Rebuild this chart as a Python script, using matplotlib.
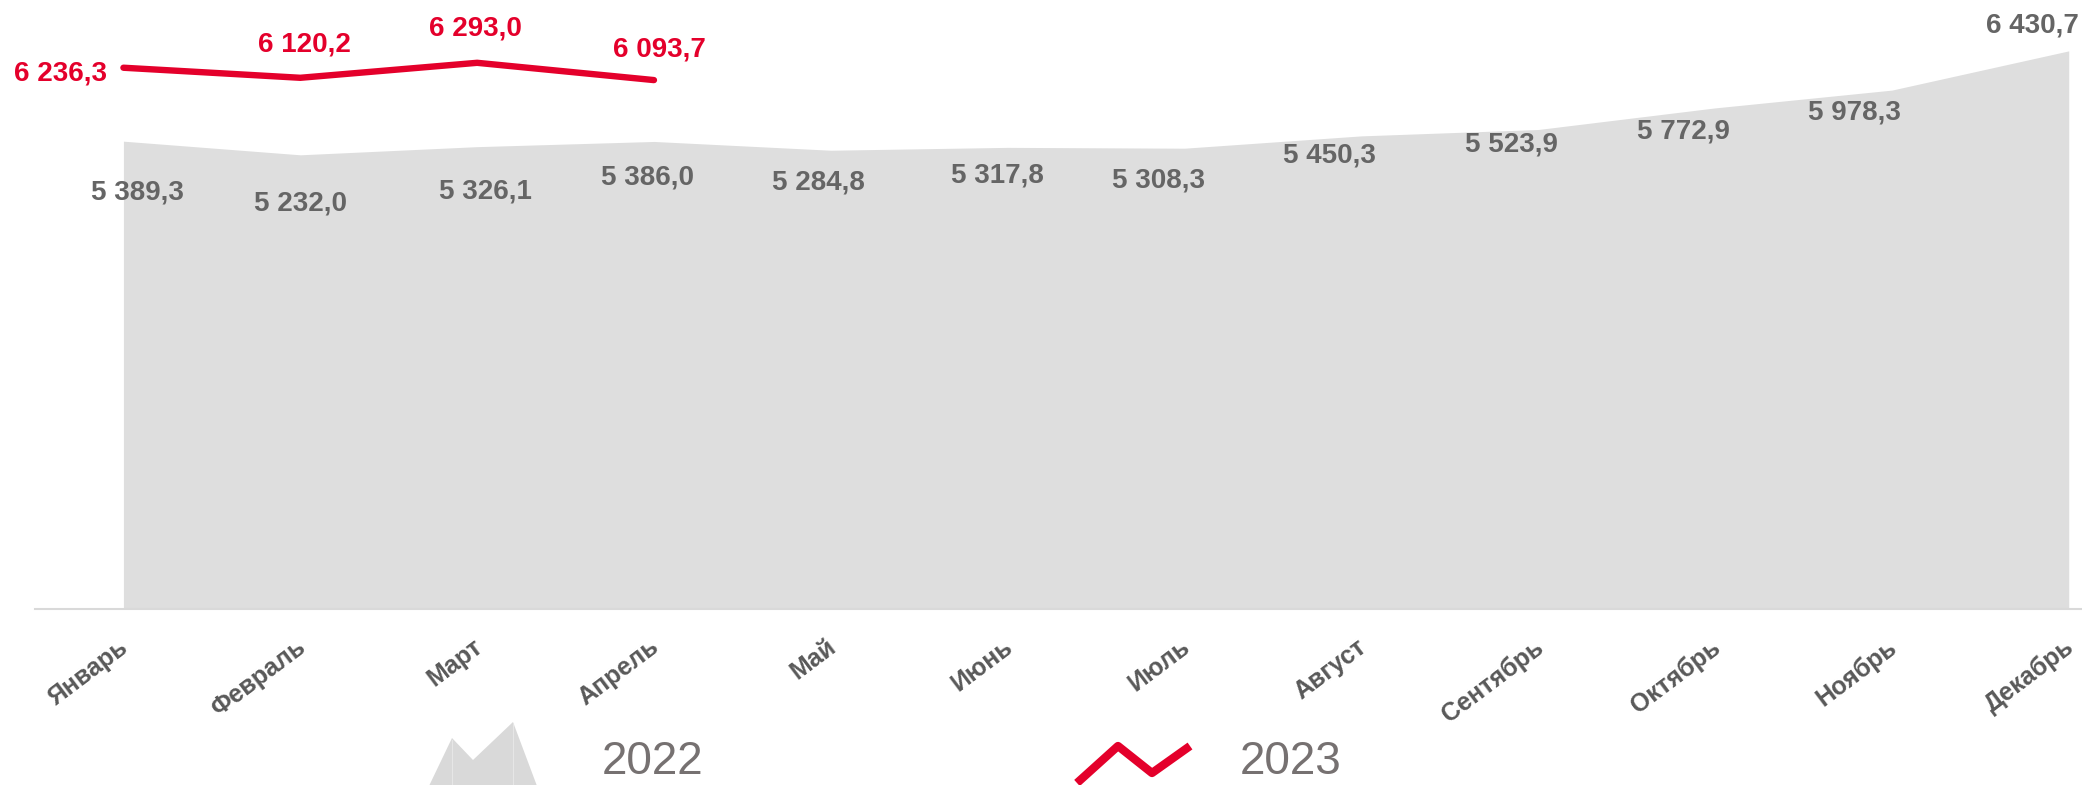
import matplotlib
matplotlib.use("Agg")
import matplotlib.pyplot as plt
import matplotlib.transforms as mtransforms
from matplotlib.patches import Polygon

plt.rcParams['font.family'] = ['Liberation Sans', 'DejaVu Sans']

# data
months = ["Январь", "Февраль", "Март", "Апрель", "Май", "Июнь",
          "Июль", "Август", "Сентябрь", "Октябрь", "Ноябрь", "Декабрь"]
values_2022 = [5389.3, 5232.0, 5326.1, 5386.0, 5284.8, 5317.8,
               5308.3, 5450.3, 5523.9, 5772.9, 5978.3, 6430.7]
values_2023 = [6236.3, 6120.2, 6293.0, 6093.7]
series_names = ["2022", "2023"]

# label placement (offset points), tuned by eye
offsets_2022 = [(10, -37), (0, -35), (6, -32), (-5, -26), (-9, -23), (-7, -20),
                (-19, -23), (-23, -14), (-19, -11), (-23, -17), (-27, -16), (-26, 18)]
offsets_2023 = [(-45, -4), (3, 24), (-1, 25), (4, 22)]

RED = "#E4002B"
FILL = "#DEDEDE"
TXT = "#656565"


def fmt(v):
    return f"{v:,.1f}".replace(",", " ").replace(".", ",")


W, H = 2082, 785
fig = plt.figure(figsize=(W / 100, H / 100), dpi=100)
ax = fig.add_axes([35 / W, (H - 608.5) / H, (W - 35) / W, 607 / H])

x = list(range(len(months)))
ax.fill_between(x, values_2022, 0, color=FILL, linewidth=0, zorder=1)
x23 = x[:len(values_2023)]
ax.plot(x23, values_2023, color=RED, linewidth=4.6, solid_capstyle="round",
        solid_joinstyle="miter", zorder=3)

for xi, v, (dx, dy) in zip(x, values_2022, offsets_2022):
    ax.annotate(fmt(v), (xi, v), xytext=(dx, dy), textcoords="offset points",
                ha="center", va="center", fontsize=20, fontweight="bold",
                color=TXT, zorder=4, annotation_clip=False)
for xi, v, (dx, dy) in zip(x23, values_2023, offsets_2023):
    ax.annotate(fmt(v), (xi, v), xytext=(dx, dy), textcoords="offset points",
                ha="center", va="center", fontsize=20, fontweight="bold",
                color=RED, zorder=4, annotation_clip=False)

ax.set_xlim(-0.5, 11.075)
ax.set_ylim(0, 7000)
for s in ["left", "right", "top"]:
    ax.spines[s].set_visible(False)
ax.spines["bottom"].set_color("#D9D9D9")
ax.spines["bottom"].set_linewidth(1.5)
ax.set_yticks([])
ax.set_xticks(x)
ax.set_xticklabels(months, rotation=37, ha="right", va="top",
                   rotation_mode="anchor", fontsize=18, fontweight="bold",
                   color="#595959")
ax.tick_params(axis="x", length=0, pad=19)
shift = mtransforms.ScaledTranslation(-5 / 100, 0, fig.dpi_scale_trans)
for lab in ax.get_xticklabels():
    lab.set_transform(lab.get_transform() + shift)

# legend drawn in pixel space
lg = fig.add_axes([0, 0, 1, 1], zorder=5)
lg.set_xlim(0, W)
lg.set_ylim(H, 0)
lg.axis("off")
lg.patch.set_alpha(0)
lg.add_patch(Polygon([(429, 786), (452, 738), (473, 760), (513, 722), (537, 786)],
                     closed=True, facecolor="#D9D9D9", edgecolor="none"))
lg.plot([452, 452], [740, 786], color="#E6E6E6", linewidth=0.8)
lg.plot([513, 513], [724, 786], color="#E6E6E6", linewidth=0.8)
lg.text(602, 762, series_names[0], fontsize=33, color="#767171",
        ha="left", va="center")
lg.plot([1077, 1118, 1152, 1190], [783, 746, 773, 746], color=RED,
        linewidth=6, solid_capstyle="butt")
lg.text(1240, 762, series_names[1], fontsize=33, color="#767171",
        ha="left", va="center")

fig.savefig("out.png", dpi=100)
